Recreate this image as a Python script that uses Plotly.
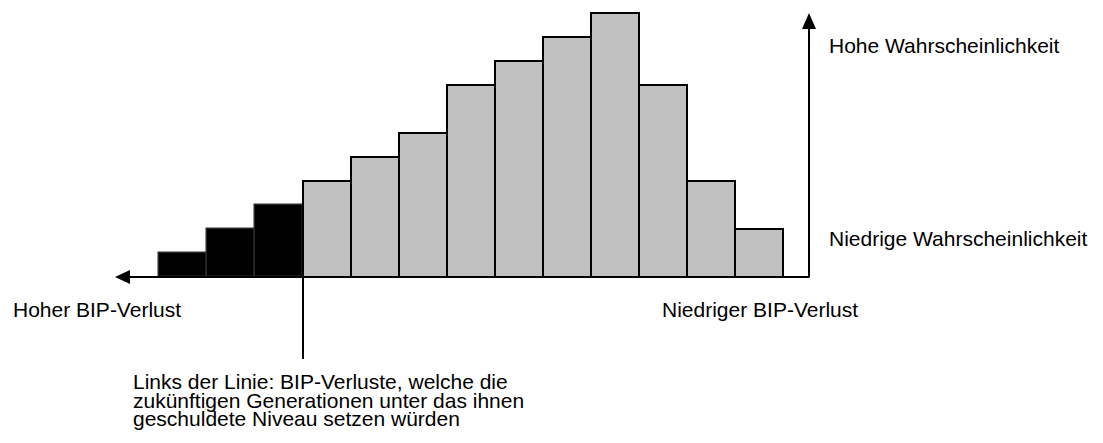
import plotly.graph_objects as go

# ---- data ----
black_idx = [0, 1, 2]
black_vals = [1, 2, 3]
gray_idx = [3, 4, 5, 6, 7, 8, 9, 10, 11, 12]
gray_vals = [4, 5, 6, 8, 9, 10, 11, 8, 4, 2]

label_high_prob = "Hohe Wahrscheinlichkeit"
label_low_prob = "Niedrige Wahrscheinlichkeit"
label_high_loss = "Hoher BIP-Verlust"
label_low_loss = "Niedriger BIP-Verlust"
note_lines = [
    "Links der Linie: BIP-Verluste, welche die",
    "zukünftigen Generationen unter das ihnen",
    "geschuldete Niveau setzen würden",
]

W, H = 1103, 443
# pixel <-> data mapping (bar i centered at i, 48 px wide; baseline at py=277, 24 px/unit)
X0, XS = 183.0, 48.0
Y0, YS = 277.0, 24.0


def px2x(px):
    return (px - X0) / XS


def py2y(py):
    return (Y0 - py) / YS


FAMILY = "Liberation Sans, Arial, sans-serif"
FS = 21
FONT = dict(family=FAMILY, size=FS, color="#000000")

fig = go.Figure()
fig.add_trace(go.Bar(
    x=black_idx, y=black_vals, width=1,
    marker=dict(color="#000000", line=dict(color="#2a2a2a", width=1.5)),
    hoverinfo="skip", showlegend=False,
))
fig.add_trace(go.Bar(
    x=gray_idx, y=gray_vals, width=1,
    marker=dict(color="#C0C0C0", line=dict(color="#000000", width=2)),
    hoverinfo="skip", showlegend=False,
))

shapes = []
# horizontal axis line
shapes.append(dict(type="line", xref="x", yref="y", x0=px2x(125), x1=px2x(809.5), y0=0, y1=0,
                   line=dict(color="#000000", width=2)))
# vertical axis line
shapes.append(dict(type="line", xref="x", yref="y", x0=px2x(809), x1=px2x(809), y0=0, y1=py2y(25),
                   line=dict(color="#000000", width=2)))
# left arrowhead
shapes.append(dict(type="path", xref="x", yref="y",
                   path=f"M {px2x(115)},{py2y(277)} L {px2x(130)},{py2y(270)} L {px2x(130)},{py2y(284)} Z",
                   fillcolor="#000000", line=dict(color="#000000", width=0)))
# top arrowhead
shapes.append(dict(type="path", xref="x", yref="y",
                   path=f"M {px2x(809)},{py2y(13)} L {px2x(802)},{py2y(29)} L {px2x(816)},{py2y(29)} Z",
                   fillcolor="#000000", line=dict(color="#000000", width=0)))
# divider line
shapes.append(dict(type="line", xref="x", yref="y", x0=2.5, x1=2.5, y0=0, y1=py2y(359),
                   line=dict(color="#000000", width=2)))

ann = []


def text(s, px, py, anchor="left", font=FONT):
    ann.append(dict(text=s, xref="paper", yref="paper", x=px / W, y=1 - py / H,
                    xanchor=anchor, yanchor="middle", showarrow=False, font=font,
                    borderpad=0, align="left"))


text(label_high_prob, 828, 45)
text(label_low_prob, 828, 238)
text(label_high_loss, 12, 309)
text(label_low_loss, 859, 309, anchor="right")

# multi-line note: small base font sets tight line spacing, spans carry the real size
LINE_GAP = 18.5
note_font = dict(family=FAMILY, size=LINE_GAP / 1.3, color="#000000")
note_text = "<br>".join(f"<span style='font-size:{FS}px'>{l}</span>" for l in note_lines)
text(note_text, 132, 400, font=note_font)

fig.update_layout(
    width=W, height=H,
    margin=dict(l=0, r=0, t=0, b=0),
    paper_bgcolor="white", plot_bgcolor="white",
    barmode="overlay", bargap=0,
    xaxis=dict(range=[px2x(0), px2x(W)], visible=False, fixedrange=True),
    yaxis=dict(range=[py2y(H), py2y(0)], visible=False, fixedrange=True),
    shapes=shapes, annotations=ann,
    showlegend=False,
)

fig.write_html(
    "out.html",
    config={"displayModeBar": False},
    post_script="document.body.style.margin='0';document.body.style.padding='0';",
)
